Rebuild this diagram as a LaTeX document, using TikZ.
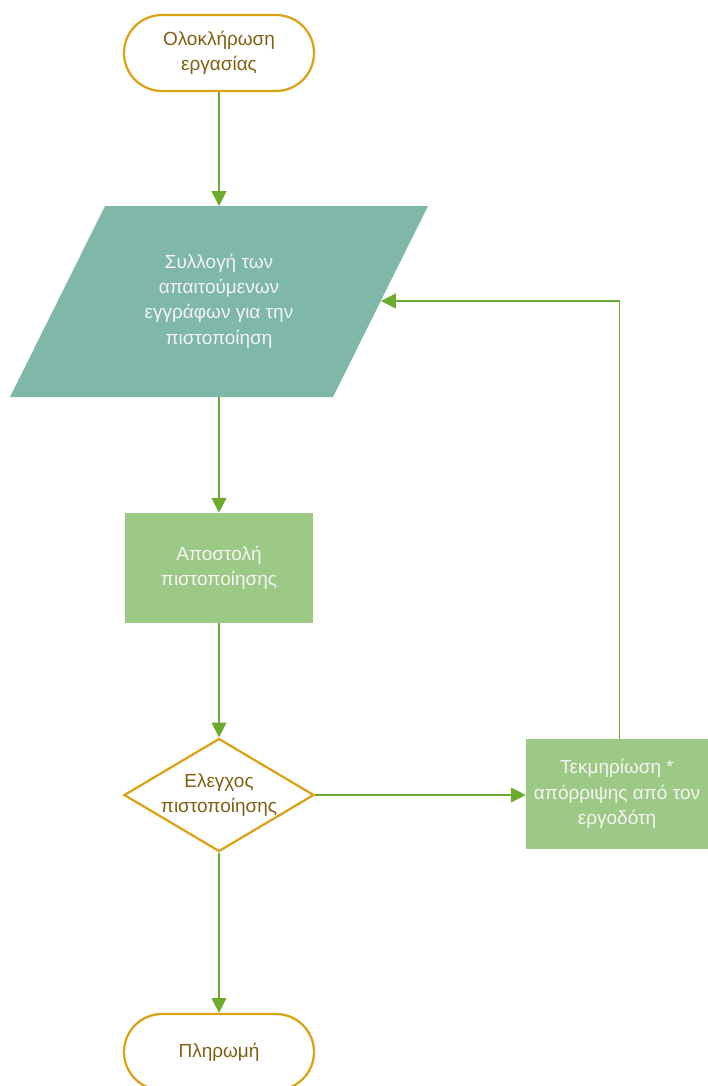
\documentclass[tikz,border=0pt]{standalone}
\usepackage{fontspec}
\setmainfont{Liberation Sans}
\usetikzlibrary{arrows.meta}
\usetikzlibrary{shapes.geometric}
\definecolor{gold}{HTML}{DBA214}
\definecolor{olive}{HTML}{7F6010}
\definecolor{teal}{HTML}{7FB7A9}
\definecolor{leaf}{HTML}{9DC986}
\definecolor{arrowgreen}{HTML}{6CAB30}
\definecolor{paper}{HTML}{F4F4F4}

\begin{document}
\begin{tikzpicture}[x=0.025cm,y=-0.025cm,
  every node/.style={font=\fontsize{13.5}{18}\selectfont, align=center},
  term/.style={draw=gold, line width=1.6pt, text=olive, minimum width=4.75cm,
    minimum height=1.9cm, rounded corners=0.95cm},
  proc/.style={fill=leaf, text=paper, inner sep=0pt},
  flow/.style={draw=arrowgreen, line width=0.9pt,
    -{Triangle[length=10.5pt,width=10.5pt]}}]
\useasboundingbox (0,0) rectangle (708,1086);

% start and end
\node [term] (start) at (219,53) {Ολοκλήρωση\\εργασίας};
\node [term] (pay) at (219,1052) {Πληρωμή};

% input/output box
\fill [teal] (105,206) -- (428,206) -- (333,397) -- (10,397) -- cycle;
\node [text=paper] (collect) at (219,301)
  {Συλλογή των\\απαιτούμενων\\εγγράφων για την\\πιστοποίηση};
\coordinate (collectN) at (219,206);
\coordinate (collectS) at (219,397);
\coordinate (collectE) at (381,301);

\node [proc, minimum width=4.675cm, minimum height=2.75cm] (send) at (219,568)
  {Αποστολή\\πιστοποίησης};

\node [diamond, draw=gold, line width=1.6pt, inner sep=0pt, minimum width=4.75cm,
  minimum height=2.825cm] (check) at (219,795) {};
\node [text=olive] (checktext) at (check) {Ελεγχος\\πιστοποίησης};

\node [proc, minimum width=4.55cm, minimum height=2.75cm] (reject) at (617,794)
  {Τεκμηρίωση *\\απόρριψης από τον\\εργοδότη};

\draw [flow] (start) -- (collectN);
\draw [flow] (collectS) -- (send);
\draw [flow] (send) -- (check);
\draw [flow] (check.east) -- (check.east -| reject.west);
\draw [flow] ([xshift=2]reject.north) |- (collectE);
\draw [flow] (check) -- (pay);
\end{tikzpicture}
\end{document}
